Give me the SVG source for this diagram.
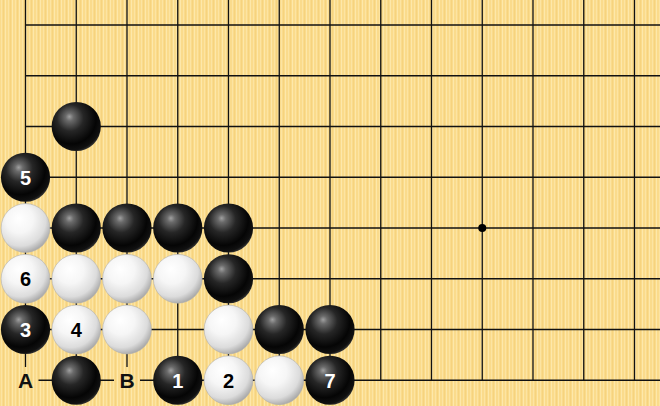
<svg xmlns="http://www.w3.org/2000/svg" width="660" height="406" viewBox="0 0 660 406">
<defs>
<pattern id="wood" width="7" height="10" patternUnits="userSpaceOnUse">
<rect width="7" height="10" fill="#FADB8C"/>
<rect x="1" width="1" height="10" fill="#FCE4A2"/>
<rect x="3" width="1" height="10" fill="#F6D37E"/>
<rect x="5" width="1" height="10" fill="#FDE8AA"/>
</pattern>
<radialGradient id="gb" cx="0.4" cy="0.36" r="0.68" fx="0.36" fy="0.3">
<stop offset="0" stop-color="#a0a0a0"/>
<stop offset="0.12" stop-color="#6a6a6a"/>
<stop offset="0.4" stop-color="#262626"/>
<stop offset="0.75" stop-color="#050505"/>
<stop offset="0.92" stop-color="#111"/>
<stop offset="1" stop-color="#3a3a3a"/>
</radialGradient>
<radialGradient id="gw" cx="0.4" cy="0.36" r="0.7" fx="0.36" fy="0.3">
<stop offset="0" stop-color="#ffffff"/>
<stop offset="0.4" stop-color="#f6f6f6"/>
<stop offset="0.75" stop-color="#dcdcdc"/>
<stop offset="1" stop-color="#9c9c9c"/>
</radialGradient>
<style>
.grid line{stroke:#111;stroke-width:1.3}
.b{fill:url(#gb)}
.w{fill:url(#gw);stroke:#b0b0b0;stroke-width:0.6}
text{font-family:"Liberation Sans",Arial,sans-serif;font-weight:bold;font-size:20px;text-anchor:middle}
.tw{fill:#fff}
.tb{fill:#000}
.lbl{font-size:21px;fill:#111}
</style>
</defs>
<rect width="660" height="406" fill="url(#wood)"/>
<g id="grid" class="grid">
<line x1="25.5" y1="0" x2="25.5" y2="380.25"/>
<line x1="76.25" y1="0" x2="76.25" y2="380.25"/>
<line x1="127" y1="0" x2="127" y2="380.25"/>
<line x1="177.75" y1="0" x2="177.75" y2="380.25"/>
<line x1="228.5" y1="0" x2="228.5" y2="380.25"/>
<line x1="279.25" y1="0" x2="279.25" y2="380.25"/>
<line x1="330" y1="0" x2="330" y2="380.25"/>
<line x1="380.75" y1="0" x2="380.75" y2="380.25"/>
<line x1="431.5" y1="0" x2="431.5" y2="380.25"/>
<line x1="482.25" y1="0" x2="482.25" y2="380.25"/>
<line x1="533" y1="0" x2="533" y2="380.25"/>
<line x1="583.75" y1="0" x2="583.75" y2="380.25"/>
<line x1="634.5" y1="0" x2="634.5" y2="380.25"/>
<line x1="25.5" y1="25" x2="660" y2="25"/>
<line x1="25.5" y1="75.75" x2="660" y2="75.75"/>
<line x1="25.5" y1="126.5" x2="660" y2="126.5"/>
<line x1="25.5" y1="177.25" x2="660" y2="177.25"/>
<line x1="25.5" y1="228" x2="660" y2="228"/>
<line x1="25.5" y1="278.75" x2="660" y2="278.75"/>
<line x1="25.5" y1="329.5" x2="660" y2="329.5"/>
<line x1="25.5" y1="380.25" x2="660" y2="380.25"/>
<circle cx="482.25" cy="228" r="4" fill="#000"/>
</g>
<g id="stones">
<circle class="b" cx="76.25" cy="126.5" r="24.6"/>
<g id="s5"><circle class="b" cx="25.5" cy="177.25" r="24.6"/><text class="tw" x="25.5" y="184.5">5</text></g>
<circle class="w" cx="25.5" cy="228" r="24.4"/>
<circle class="b" cx="76.25" cy="228" r="24.6"/>
<circle class="b" cx="127" cy="228" r="24.6"/>
<circle class="b" cx="177.75" cy="228" r="24.6"/>
<circle class="b" cx="228.5" cy="228" r="24.6"/>
<g id="s6"><circle class="w" cx="25.5" cy="278.75" r="24.4"/><text class="tb" x="25.5" y="286">6</text></g>
<circle class="w" cx="76.25" cy="278.75" r="24.4"/>
<circle class="w" cx="127" cy="278.75" r="24.4"/>
<circle class="w" cx="177.75" cy="278.75" r="24.4"/>
<circle class="b" cx="228.5" cy="278.75" r="24.6"/>
<g id="s3"><circle class="b" cx="25.5" cy="329.5" r="24.6"/><text class="tw" x="25.5" y="336.7">3</text></g>
<g id="s4"><circle class="w" cx="76.25" cy="329.5" r="24.4"/><text class="tb" x="76.25" y="336.7">4</text></g>
<circle class="w" cx="127" cy="329.5" r="24.4"/>
<circle class="w" cx="228.5" cy="329.5" r="24.4"/>
<circle class="b" cx="279.25" cy="329.5" r="24.6"/>
<circle class="b" cx="330" cy="329.5" r="24.6"/>
<circle class="b" cx="76.25" cy="380.25" r="24.6"/>
<g id="s1"><circle class="b" cx="177.75" cy="380.25" r="24.6"/><text class="tw" x="177.75" y="387.5">1</text></g>
<g id="s2"><circle class="w" cx="228.5" cy="380.25" r="24.4"/><text class="tb" x="228.5" y="387.5">2</text></g>
<circle class="w" cx="279.25" cy="380.25" r="24.4"/>
<g id="s7"><circle class="b" cx="330" cy="380.25" r="24.6"/><text class="tw" x="330" y="387.5">7</text></g>
</g>
<g id="labelA"><rect x="12.5" y="367" width="26" height="27" fill="url(#wood)"/><text class="lbl" x="25.5" y="388">A</text></g>
<g id="labelB"><rect x="114" y="367" width="26" height="27" fill="url(#wood)"/><text class="lbl" x="127" y="388">B</text></g>
</svg>
